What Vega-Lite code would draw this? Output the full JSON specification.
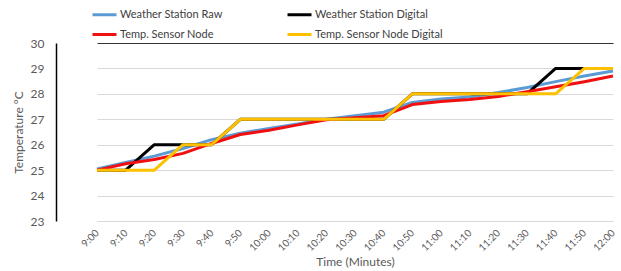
{
  "$schema": "https://vega.github.io/schema/vega-lite/v6.json",
  "width": 565,
  "height": 178,
  "autosize": {"type": "none"},
  "padding": {"left": 56, "top": 43, "right": 0, "bottom": 50},
  "background": "#ffffff",
  "config": {
    "view": {"stroke": null},
    "font": "Lato"
  },
  "data": {
    "values": [
      {"t": "9:00", "series": "Weather Station Raw", "value": 25.05},
      {"t": "9:10", "series": "Weather Station Raw", "value": 25.3},
      {"t": "9:20", "series": "Weather Station Raw", "value": 25.55},
      {"t": "9:30", "series": "Weather Station Raw", "value": 25.85},
      {"t": "9:40", "series": "Weather Station Raw", "value": 26.2},
      {"t": "9:50", "series": "Weather Station Raw", "value": 26.45},
      {"t": "10:00", "series": "Weather Station Raw", "value": 26.64},
      {"t": "10:10", "series": "Weather Station Raw", "value": 26.82},
      {"t": "10:20", "series": "Weather Station Raw", "value": 27.0},
      {"t": "10:30", "series": "Weather Station Raw", "value": 27.14},
      {"t": "10:40", "series": "Weather Station Raw", "value": 27.28},
      {"t": "10:50", "series": "Weather Station Raw", "value": 27.66},
      {"t": "11:00", "series": "Weather Station Raw", "value": 27.8},
      {"t": "11:10", "series": "Weather Station Raw", "value": 27.88},
      {"t": "11:20", "series": "Weather Station Raw", "value": 28.05},
      {"t": "11:30", "series": "Weather Station Raw", "value": 28.25},
      {"t": "11:40", "series": "Weather Station Raw", "value": 28.48},
      {"t": "11:50", "series": "Weather Station Raw", "value": 28.7},
      {"t": "12:00", "series": "Weather Station Raw", "value": 28.9},
      {"t": "9:00", "series": "Weather Station Digital", "value": 25},
      {"t": "9:10", "series": "Weather Station Digital", "value": 25},
      {"t": "9:20", "series": "Weather Station Digital", "value": 26},
      {"t": "9:30", "series": "Weather Station Digital", "value": 26},
      {"t": "9:40", "series": "Weather Station Digital", "value": 26},
      {"t": "9:50", "series": "Weather Station Digital", "value": 27},
      {"t": "10:00", "series": "Weather Station Digital", "value": 27},
      {"t": "10:10", "series": "Weather Station Digital", "value": 27},
      {"t": "10:20", "series": "Weather Station Digital", "value": 27},
      {"t": "10:30", "series": "Weather Station Digital", "value": 27},
      {"t": "10:40", "series": "Weather Station Digital", "value": 27},
      {"t": "10:50", "series": "Weather Station Digital", "value": 28},
      {"t": "11:00", "series": "Weather Station Digital", "value": 28},
      {"t": "11:10", "series": "Weather Station Digital", "value": 28},
      {"t": "11:20", "series": "Weather Station Digital", "value": 28},
      {"t": "11:30", "series": "Weather Station Digital", "value": 28},
      {"t": "11:40", "series": "Weather Station Digital", "value": 29},
      {"t": "11:50", "series": "Weather Station Digital", "value": 29},
      {"t": "12:00", "series": "Weather Station Digital", "value": 29},
      {"t": "9:00", "series": "Temp. Sensor Node", "value": 25.0},
      {"t": "9:10", "series": "Temp. Sensor Node", "value": 25.25},
      {"t": "9:20", "series": "Temp. Sensor Node", "value": 25.42},
      {"t": "9:30", "series": "Temp. Sensor Node", "value": 25.66},
      {"t": "9:40", "series": "Temp. Sensor Node", "value": 26.05},
      {"t": "9:50", "series": "Temp. Sensor Node", "value": 26.4},
      {"t": "10:00", "series": "Temp. Sensor Node", "value": 26.57},
      {"t": "10:10", "series": "Temp. Sensor Node", "value": 26.78},
      {"t": "10:20", "series": "Temp. Sensor Node", "value": 26.98},
      {"t": "10:30", "series": "Temp. Sensor Node", "value": 27.06},
      {"t": "10:40", "series": "Temp. Sensor Node", "value": 27.14},
      {"t": "10:50", "series": "Temp. Sensor Node", "value": 27.58},
      {"t": "11:00", "series": "Temp. Sensor Node", "value": 27.7},
      {"t": "11:10", "series": "Temp. Sensor Node", "value": 27.78},
      {"t": "11:20", "series": "Temp. Sensor Node", "value": 27.9},
      {"t": "11:30", "series": "Temp. Sensor Node", "value": 28.08},
      {"t": "11:40", "series": "Temp. Sensor Node", "value": 28.28},
      {"t": "11:50", "series": "Temp. Sensor Node", "value": 28.48},
      {"t": "12:00", "series": "Temp. Sensor Node", "value": 28.7},
      {"t": "9:00", "series": "Temp. Sensor Node Digital", "value": 25},
      {"t": "9:10", "series": "Temp. Sensor Node Digital", "value": 25},
      {"t": "9:20", "series": "Temp. Sensor Node Digital", "value": 25},
      {"t": "9:30", "series": "Temp. Sensor Node Digital", "value": 26},
      {"t": "9:40", "series": "Temp. Sensor Node Digital", "value": 26},
      {"t": "9:50", "series": "Temp. Sensor Node Digital", "value": 27},
      {"t": "10:00", "series": "Temp. Sensor Node Digital", "value": 27},
      {"t": "10:10", "series": "Temp. Sensor Node Digital", "value": 27},
      {"t": "10:20", "series": "Temp. Sensor Node Digital", "value": 27},
      {"t": "10:30", "series": "Temp. Sensor Node Digital", "value": 27},
      {"t": "10:40", "series": "Temp. Sensor Node Digital", "value": 27},
      {"t": "10:50", "series": "Temp. Sensor Node Digital", "value": 28},
      {"t": "11:00", "series": "Temp. Sensor Node Digital", "value": 28},
      {"t": "11:10", "series": "Temp. Sensor Node Digital", "value": 28},
      {"t": "11:20", "series": "Temp. Sensor Node Digital", "value": 28},
      {"t": "11:30", "series": "Temp. Sensor Node Digital", "value": 28},
      {"t": "11:40", "series": "Temp. Sensor Node Digital", "value": 28},
      {"t": "11:50", "series": "Temp. Sensor Node Digital", "value": 29},
      {"t": "12:00", "series": "Temp. Sensor Node Digital", "value": 29}
    ]
  },
  "mark": {"type": "line", "strokeWidth": 3, "strokeJoin": "round"},
  "encoding": {
    "x": {
      "field": "t",
      "type": "ordinal",
      "sort": null,
      "scale": {"type": "point", "range": [41, 557], "padding": 0},
      "axis": {
        "title": "Time (Minutes)",
        "titleFontSize": 12,
        "titleFontWeight": "normal",
        "titleColor": "#595959",
        "titlePadding": 4,
        "labelAngle": -45,
        "labelAlign": "right",
        "labelBaseline": "middle",
        "labelFontSize": 10,
        "labelColor": "#595959",
        "labelPadding": 10,
        "ticks": false,
        "domainColor": "#d9d9d9",
        "domainWidth": 1,
        "grid": false
      }
    },
    "y": {
      "field": "value",
      "type": "quantitative",
      "scale": {"domain": [23, 30], "nice": false, "zero": false},
      "axis": {
        "title": "Temperature °C",
        "titleFontSize": 12,
        "titleFontWeight": "normal",
        "titleColor": "#595959",
        "titlePadding": 5,
        "values": [23, 24, 25, 26, 27, 28, 29, 30],
        "labelFontSize": 12,
        "labelColor": "#595959",
        "labelPadding": 12,
        "ticks": false,
        "domainColor": "#000000",
        "domainWidth": 1.5,
        "grid": true,
        "gridColor": {"condition": {"test": "datum.value == 30", "value": "#333333"}, "value": "#d9d9d9"}
      }
    },
    "color": {
      "field": "series",
      "type": "nominal",
      "scale": {
        "domain": ["Weather Station Raw", "Weather Station Digital", "Temp. Sensor Node", "Temp. Sensor Node Digital"],
        "range": ["#5b9bd5", "#000000", "#f01010", "#ffc000"]
      },
      "legend": {
        "title": null,
        "orient": "none",
        "legendX": 35,
        "legendY": -42,
        "columns": 2,
        "direction": "horizontal",
        "columnPadding": 58,
        "rowPadding": -6,
        "symbolType": "stroke",
        "symbolSize": 576,
        "symbolStrokeWidth": 3,
        "labelFontSize": 11,
        "labelColor": "#404040",
        "labelOffset": 2
      }
    }
  }
}
